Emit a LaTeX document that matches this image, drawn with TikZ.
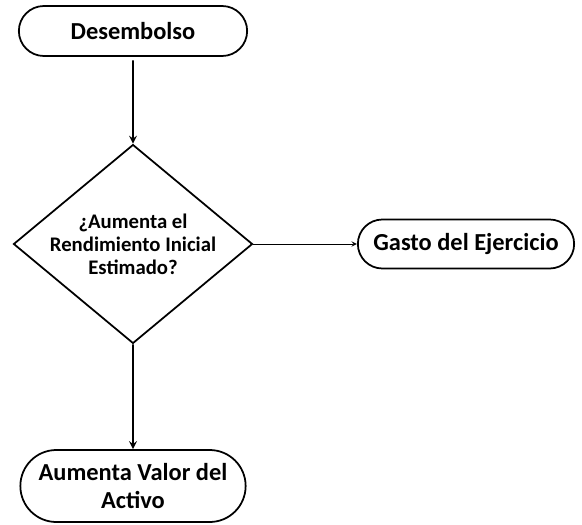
\documentclass[tikz,border=0pt]{standalone}
\usepackage{fontspec}
\setmainfont{Carlito}
\usetikzlibrary{shapes.geometric,shapes.misc}
\begin{document}
\begin{tikzpicture}[->,>=stealth,line width=1pt,
  term/.style={rounded rectangle,draw,align=center,font=\fontsize{13.9}{15.9}\selectfont\bfseries},
  decis/.style={diamond,draw,aspect=1.2,inner sep=0pt,align=center,font=\fontsize{11.8}{13}\selectfont\bfseries}]
  \useasboundingbox (-2.66,0.62) rectangle (8.98,-9.86);
  \node (des) [term,minimum width=4.8cm,minimum height=1cm] {Desembolso};
  \node (dec) [decis,below of=des,yshift=-3.26cm,minimum width=4.78cm,minimum height=3.96cm] {¿Aumenta el\\Rendimiento Inicial\\Estimado?};
  \node (gasto) [term,right of=dec,xshift=5.66cm,minimum width=4.56cm,minimum height=0.98cm] {Gasto del Ejercicio};
  \node (act) [term,below of=dec,yshift=-3.84cm,minimum width=4.74cm,minimum height=1.44cm] {Aumenta Valor del\\Activo};
  \draw[shorten <=2pt] (des)--(dec);
  \draw[thin] (dec)--(gasto);
  \draw (dec)--(act);
\end{tikzpicture}
\end{document}
